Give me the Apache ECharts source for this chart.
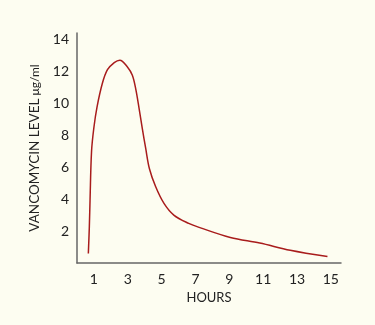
<!DOCTYPE html>
<html><head><meta charset="utf-8">
<script src="https://cdn.jsdelivr.net/npm/echarts@6/dist/echarts.min.js"></script>
<style>html,body{margin:0;padding:0;background:#fdfdf1;}#c{width:375px;height:325px;}</style>
</head><body><div id="c"></div>
<script>
const hours = [0.67, 0.73, 0.77, 0.86, 1.0, 1.18, 1.5, 1.8, 2.2, 2.53, 2.98, 3.27, 3.47, 3.67, 3.86, 4.06, 4.28, 4.65, 5.14, 5.72, 6.6, 7.3, 9.06, 10.8, 12.6, 14.8];
const levels = [0.6, 2.3, 3.9, 7.0, 8.5, 9.75, 11.25, 12.1, 12.55, 12.7, 12.27, 11.75, 10.9, 9.67, 8.42, 7.17, 5.9, 4.77, 3.73, 3.0, 2.48, 2.2, 1.6, 1.25, 0.8, 0.4];
const xTicks = [1, 3, 5, 7, 9, 11, 13, 15];
const yTicks = [2, 4, 6, 8, 10, 12, 14];

const chart = echarts.init(document.getElementById('c'), null, {renderer: 'canvas'});
const font = 'Lato, "Open Sans", sans-serif';
chart.setOption({
  backgroundColor: '#fdfdf1',
  animation: false,
  grid: {left: 77, right: 34, top: 33, bottom: 62},
  xAxis: {
    type: 'value', min: 0, max: 15.6,
    name: 'HOURS', nameLocation: 'middle', nameGap: 28,
    nameTextStyle: {color: '#222', fontSize: 13, fontFamily: font, letterSpacing: 1.5},
    axisLine: {lineStyle: {color: '#666', width: 1.5}},
    axisTick: {show: false},
    splitLine: {show: false},
    axisLabel: {customValues: xTicks, color: '#222', fontSize: 14, fontFamily: font, margin: 9}
  },
  yAxis: {
    type: 'value', min: 0, max: 14.4,
    name: '{a|VANCOMYCIN LEVEL} {b|μg/ml}', nameLocation: 'middle', nameGap: 32, nameRotate: 90,
    nameTextStyle: {color: '#222', fontFamily: font,
      rich: {a: {fontSize: 13.5, fontFamily: font, color: '#222', letterSpacing: 1.3}, b: {fontSize: 12, fontFamily: font, color: '#222', letterSpacing: 0.5}}},
    axisLine: {show: true, lineStyle: {color: '#666', width: 1.5}},
    axisTick: {show: false},
    splitLine: {show: false},
    axisLabel: {customValues: yTicks, color: '#222', fontSize: 14, fontFamily: font, margin: 8}
  },
  series: [{
    type: 'line', smooth: 0.35, showSymbol: false,
    data: hours.map((h, i) => [h, levels[i]]),
    lineStyle: {color: '#a81c1c', width: 1.5}
  }]
});
</script></body></html>
